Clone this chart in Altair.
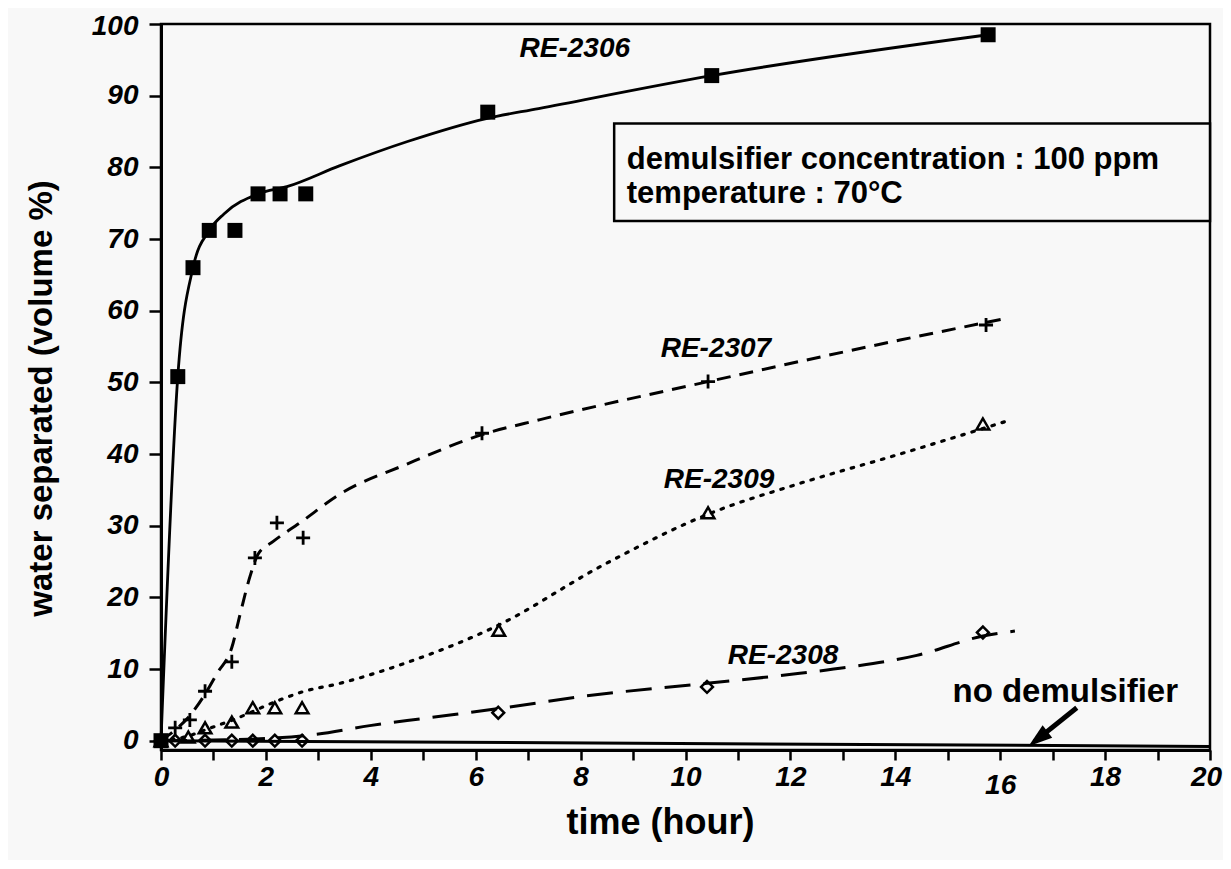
import altair as alt
import pandas as pd

# ---- data ----
# RE-2306 measured points (filled squares)
t_2306 = [0, 0.32, 0.61, 0.92, 1.41, 1.85, 2.27, 2.76, 6.23, 10.5, 15.77]
v_2306 = [0, 50.8, 66.0, 71.2, 71.2, 76.3, 76.3, 76.3, 87.7, 92.8, 98.5]
# RE-2306 fitted curve
ct_2306 = [0, 0.32, 0.61, 0.92, 1.2, 1.85, 2.4, 3.4, 4.7, 6.2, 7.2, 10.5, 15.77]
cv_2306 = [0, 50.8, 66.0, 71.2, 73.5, 76.3, 77.3, 80.2, 83.6, 86.8, 88.2, 92.8, 98.5]

# RE-2307 (+)
t_2307 = [0, 0.27, 0.55, 0.84, 1.35, 1.79, 2.21, 2.71, 6.12, 10.43, 15.73]
v_2307 = [0, 1.8, 2.9, 6.9, 11.0, 25.5, 30.4, 28.3, 42.9, 50.1, 58.0]
ct_2307 = [0, 0.27, 0.55, 0.84, 1.07, 1.35, 1.51, 1.7, 1.85, 2.14, 2.65, 3.41, 4.69, 6.12, 7.23, 10.43, 14.09, 16.1]
cv_2307 = [0, 1.5, 3.5, 6.5, 9.4, 13.0, 17.7, 23.0, 26.0, 27.8, 30.4, 34.4, 38.6, 42.7, 44.8, 50.1, 55.9, 58.9]

# RE-2309 (open triangles)
t_2309 = [0, 0.52, 0.84, 1.35, 1.75, 2.17, 2.69, 6.44, 10.43, 15.67]
v_2309 = [0, 0.5, 1.8, 2.6, 4.6, 4.6, 4.6, 15.4, 31.8, 44.2]
ct_2309 = [0, 0.5, 0.84, 1.37, 2.27, 2.69, 3.41, 4.69, 6.4, 8.43, 10.43, 12.18, 14.09, 16.13]
cv_2309 = [0, 0.6, 1.5, 2.9, 5.7, 6.8, 8.0, 10.9, 16.0, 24.5, 31.6, 35.9, 40.0, 44.6]

# RE-2308 (open diamonds)
t_2308 = [0, 0.27, 0.84, 1.35, 1.75, 2.17, 2.69, 6.43, 10.41, 15.67]
v_2308 = [0, 0, 0, 0, 0, 0, 0, 3.9, 7.5, 15.1]
ct_2308 = [0, 1.0, 2.0, 2.97, 3.98, 5.0, 6.46, 8.05, 10.41, 12.18, 13.14, 14.41, 15.67, 16.28]
cv_2308 = [0, 0.1, 0.3, 0.9, 2.1, 3.1, 4.5, 6.2, 8.0, 9.4, 10.3, 11.9, 14.6, 15.3]

# no demulsifier
t_none = [0, 20]
v_none = [0, -0.8]

# labels
label_text = ["RE-2306", "RE-2307", "RE-2309", "RE-2308"]
label_t = [7.89, 10.58, 10.64, 11.86]
label_v = [96.5, 54.6, 36.4, 11.8]

note_lines = ["demulsifier concentration : 100 ppm", "temperature : 70°C"]
note_t = [8.88, 8.88]
note_v = [79.7, 75.0]
box_t = [8.64, 20.0]
box_v = [72.5, 86.1]

nodem_text = ["no demulsifier"]
nodem_t = [17.24]
nodem_v = [6.8]
arrow_t = [17.46, 16.66]
arrow_v = [4.6, -0.1]
head_t = [16.72]
head_v = [0.25]

x_ticks = list(range(0, 21))
y_ticks = list(range(0, 101, 10))

BG = "#f8f8f8"
FONT = "Liberation Sans"


def df(t, v):
    return pd.DataFrame({"t": t, "v": v})


X = alt.X(
    "t:Q",
    scale=alt.Scale(domain=[0, 20], nice=False, zero=False),
    axis=alt.Axis(
        values=x_ticks,
        labelExpr="datum.value % 2 == 0 ? datum.label : ''",
        grid=False,
        tickSize=10,
        tickWidth=2.5,
        tickColor="black",
        domainColor="black",
        domainWidth=3,
        labelFont=FONT,
        labelFontSize=28,
        labelFontWeight="bold",
        labelFontStyle="italic",
        labelColor="black",
        labelPadding={"condition": {"test": "datum.value == 16", "value": 11}, "value": 3},
        labelOffset={"condition": {"test": "datum.value == 20", "value": -4}, "value": 0},
        labelFlush=False,
        labelOverlap=False,
        labelBound=False,
        title="time (hour)",
        titleFont=FONT,
        titleFontSize=36,
        titleFontWeight="bold",
        titleColor="black",
        titleX=499,
        titleY=72,
        titleAlign="center",
        titleBaseline="middle",
    ),
)
Y = alt.Y(
    "v:Q",
    scale=alt.Scale(domain=[-1.3, 100], nice=False, zero=False),
    axis=alt.Axis(
        values=y_ticks,
        grid=False,
        tickSize=12,
        tickWidth=2.5,
        tickColor="black",
        domainColor="black",
        domainWidth=3,
        labelFont=FONT,
        labelFontSize=28,
        labelFontWeight="bold",
        labelFontStyle="italic",
        labelColor="black",
        labelPadding=11,
        labelOffset={"condition": {"test": "datum.value == 100", "value": 2}, "value": 0},
        labelOverlap=False,
        labelFlush=False,
        title="water separated (volume %)",
        titleFont=FONT,
        titleFontSize=33,
        titleFontWeight="bold",
        titleColor="black",
        titleX=-120,
        titleY=374,
        titleAngle=-90,
        titleAlign="center",
        titleBaseline="middle",
    ),
)

# note box
box_df = pd.DataFrame({"t": [box_t[0]], "t2": [box_t[1]], "v": [box_v[0]], "v2": [box_v[1]]})
box = alt.Chart(box_df).mark_rect(fill=BG, stroke="black", strokeWidth=2.5).encode(
    x=X, x2="t2:Q", y=Y, y2="v2:Q"
)
note_df = pd.DataFrame({"t": note_t, "v": note_v, "txt": note_lines})
note = alt.Chart(note_df).mark_text(
    font=FONT, fontSize=31, fontWeight="bold", align="left", baseline="alphabetic", color="black"
).encode(x=X, y=Y, text="txt:N")

# curves
line_2306 = alt.Chart(df(ct_2306, cv_2306)).mark_line(
    color="black", strokeWidth=2.8, interpolate="monotone"
).encode(x=X, y=Y, order="t:Q")
line_2307 = alt.Chart(df(ct_2307, cv_2307)).mark_line(
    color="black", strokeWidth=3, strokeDash=[14, 9], interpolate="monotone"
).encode(x=X, y=Y, order="t:Q")
line_2309 = alt.Chart(df(ct_2309, cv_2309)).mark_line(
    color="black", strokeWidth=3.2, strokeDash=[2.5, 8], strokeCap="round", interpolate="monotone"
).encode(x=X, y=Y, order="t:Q")
line_2308 = alt.Chart(df(ct_2308, cv_2308)).mark_line(
    color="black", strokeWidth=3, strokeDash=[26, 13], interpolate="monotone"
).encode(x=X, y=Y, order="t:Q")
line_none = alt.Chart(df(t_none, v_none)).mark_line(
    color="black", strokeWidth=3
).encode(x=X, y=Y, order="t:Q")

# markers
pts_2306 = alt.Chart(df(t_2306, v_2306)).mark_point(
    shape="square", filled=True, color="black", size=225, opacity=1
).encode(x=X, y=Y)
pts_2307 = alt.Chart(df(t_2307, v_2307)).mark_point(
    shape="M-1,0L1,0M0,-1L0,1", filled=False, color="black", strokeWidth=2.8, size=196, opacity=1
).encode(x=X, y=Y)
pts_2309 = alt.Chart(df(t_2309, v_2309)).mark_point(
    shape="triangle-up", filled=False, color="black", strokeWidth=2.5, size=160, opacity=1
).encode(x=X, y=Y)
pts_2308 = alt.Chart(df(t_2308, v_2308)).mark_point(
    shape="diamond", filled=False, color="black", strokeWidth=2.5, size=140, opacity=1
).encode(x=X, y=Y)

# labels
lab_df = pd.DataFrame({"t": label_t, "v": label_v, "txt": label_text})
labels = alt.Chart(lab_df).mark_text(
    font=FONT, fontSize=28, fontWeight="bold", fontStyle="italic", color="black",
    align="center", baseline="middle"
).encode(x=X, y=Y, text="txt:N")

nodem_df = pd.DataFrame({"t": nodem_t, "v": nodem_v, "txt": nodem_text})
nodem = alt.Chart(nodem_df).mark_text(
    font=FONT, fontSize=33, fontWeight="bold", color="black", align="center", baseline="middle"
).encode(x=X, y=Y, text="txt:N")

arrow = alt.Chart(df(arrow_t, arrow_v)).mark_line(color="black", strokeWidth=5).encode(
    x=X, y=Y, order="t:Q"
)
head = alt.Chart(df(head_t, head_v)).mark_point(
    shape="M0,-1L0.65,1L-0.65,1Z", filled=True, color="black", size=576, angle=232, opacity=1
).encode(x=X, y=Y)

chart = alt.layer(
    box, note, line_none, line_2308, line_2309, line_2307, line_2306,
    pts_2308, pts_2309, pts_2307, pts_2306, labels, nodem, arrow, head
).properties(
    width=1049,
    height=726,
    autosize=alt.AutoSizeParams(type="none"),
    padding={"left": 153, "top": 16, "right": 13, "bottom": 110},
    background=BG,
).configure_view(stroke="black", strokeWidth=2.5)

chart.save("out.html", embed_options={"renderer": "svg", "actions": False})
